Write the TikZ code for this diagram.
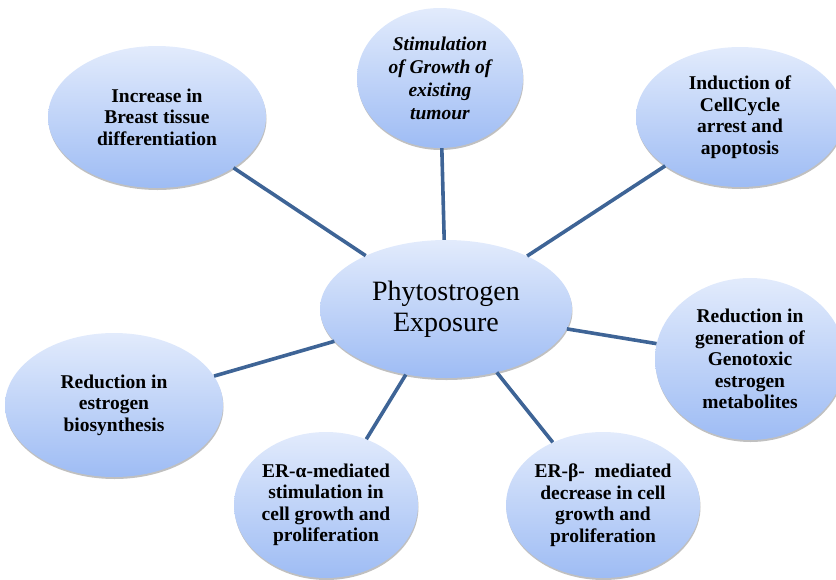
\documentclass[tikz,border=0pt]{standalone}
\usepackage{fontspec}
\setmainfont{Liberation Serif}
\usepackage{tikz}
\usetikzlibrary{shapes.geometric, shadows}
\definecolor{bubTop}{RGB}{226, 235, 252}
\definecolor{bubBot}{RGB}{158, 188, 244}
\definecolor{spoke}{RGB}{62, 100, 150}

\tikzset{
  bubble/.style={ellipse, top color=bubTop, bottom color=bubBot, draw=none,
    align=center, inner sep=0pt, font=\fontsize{19.5}{21.5}\selectfont\bfseries,
    drop shadow={opacity=0.45, shadow xshift=0.5pt, shadow yshift=-2pt, fill=black!55}},
  spokeline/.style={draw=spoke, line width=3.6pt}
}

\begin{document}
\begin{tikzpicture}[x=1pt, y=-1pt]
  \useasboundingbox (0,0) rectangle (836,579);

  \node[bubble, minimum width=252pt, minimum height=138pt,
        font=\fontsize{28}{31}\selectfont] (hub) at (446,309)
    {Phytostrogen\\Exposure};

  \node[bubble, minimum width=218pt, minimum height=142pt] (breast) at (157,117)
    {Increase in\\Breast tissue\\differentiation};
  \node[bubble, minimum width=166pt, minimum height=140pt,
        font=\fontsize{19.5}{23}\selectfont\bfseries\itshape] (growth) at (440,78)
    {Stimulation\\of Growth of\\existing\\tumour};
  \node[bubble, minimum width=208pt, minimum height=140pt] (cycle) at (740,117)
    {Induction of\\CellCycle\\arrest and\\apoptosis};
  \node[bubble, minimum width=190pt, minimum height=162pt] (geno) at (750,359)
    {Reduction in\\generation of\\Genotoxic\\estrogen\\metabolites};
  \node[bubble, minimum width=218pt, minimum height=144pt] (biosyn) at (114,405)
    {Reduction in\\estrogen\\biosynthesis};
  \node[bubble, minimum width=184pt, minimum height=146pt] (eralpha) at (326,505)
    {ER-α-mediated\\stimulation in\\cell growth and\\proliferation};
  \node[bubble, minimum width=194pt, minimum height=146pt] (erbeta) at (603,505)
    {ER-β-\ \ mediated\\decrease in cell\\growth and\\proliferation};

  % spokes from the hub
  \foreach \n in {breast, growth, cycle, geno, biosyn, eralpha, erbeta}
    \draw[spokeline] (hub) -- (\n);
\end{tikzpicture}
\end{document}
